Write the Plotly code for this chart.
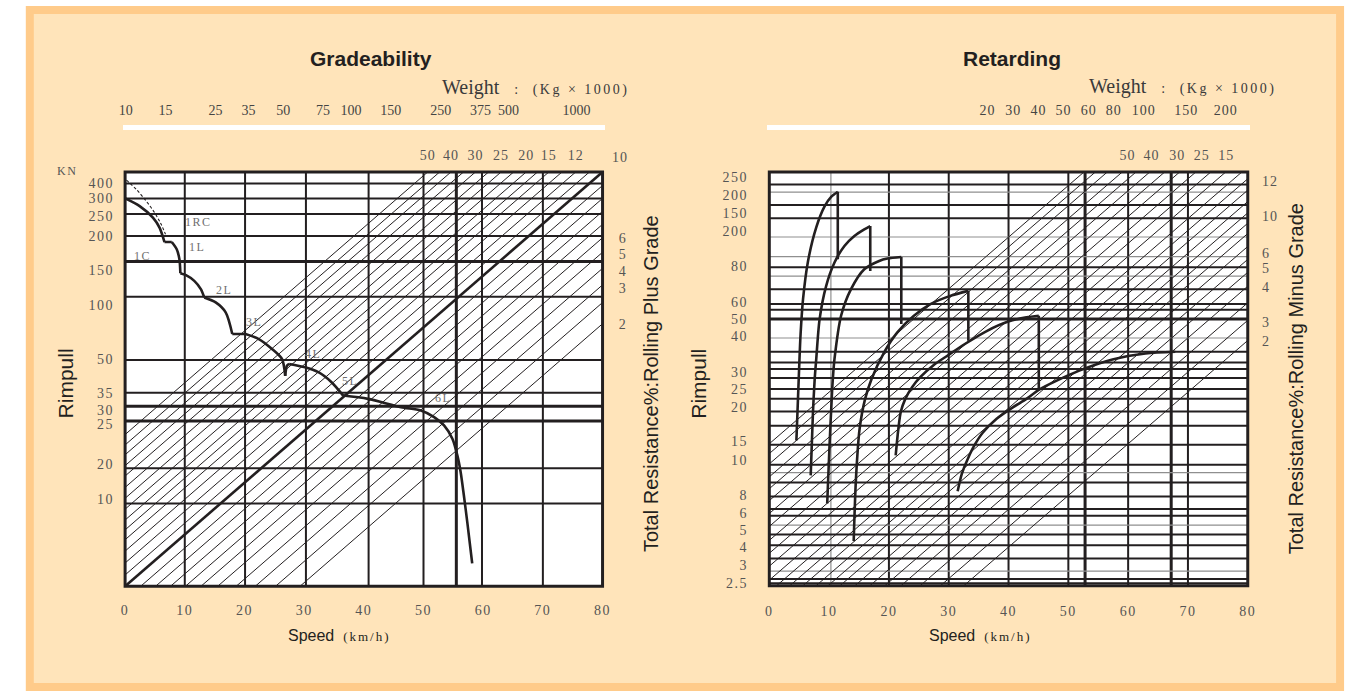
import plotly.graph_objects as go

FIG_W, FIG_H = 1355, 698
INK = "#231f20"
GRAY = "#8f8f8f"
TICK_COL = "#555555"
SERIF = "Liberation Serif, DejaVu Serif, serif"
SANS = "Liberation Sans, Arial, sans-serif"

# ======================= DATA =======================
speed_ticks = [0, 10, 20, 30, 40, 50, 60, 70, 80]

# ---- Gradeability (left) : vertical unit = position on the nonuniform rimpull scale
g_height = 415.5
g_rim_text = ["400", "300", "250", "200", "150", "100", "50", "35", "30", "25", "20", "10"]
g_rim_pos = [404, 389, 371, 351, 317, 282, 228, 194, 177, 163, 123, 87]
g_grade_right_text = ["6", "5", "4", "3", "2"]
g_grade_right_pos = [349, 333, 316, 299, 263]
g_grade_top_text = ["50", "40", "30", "25", "20", "15", "12"]
g_grade_top_speed = [50.7, 54.6, 58.7, 63.0, 67.2, 71.0, 75.5]
g_weight = [10, 15, 25, 35, 50, 75, 100, 150, 250, 375, 500, 1000]
g_vgrid_speed = [10, 20.1, 30.3, 40.8, 50, 55.5, 59.8, 70]
g_vgrid_width = [2, 2, 2, 2, 2, 3, 2, 2]
g_hgrid_pos = [404, 389, 373.5, 351.3, 325.7, 290.5, 227, 194, 180.7, 165.7, 118.5, 83]
g_hgrid_width = [2, 2, 2, 2, 3, 2, 2, 2, 3, 3, 2, 2]
# grade lines: speed where each line meets the bottom edge
g_hatch_offsets = [-29.3, -27.3, -25.4, -23.3, -21.3, -19.1, -17.0, -14.9, -12.8, -10.9,
                   -9.0, -6.8, -4.5, -2.2, 2.6, 5.1, 7.6, 10.1, 12.7, 15.5, 18.6, 21.8,
                   25.2, 29.3]
g_main_offset = 0.0
# rimpull curve, segments separated by None
g_curve_speed = [0, 2.44, 4.66, 5.77, 6.6, None,
                 6.6, 7.82, None,
                 7.82, 8.65, 9.1, 9.26, None,
                 9.26, 10.2, 11.59, 12.69, 13.26, None,
                 13.26, 15.18, 16.85, 17.96, None,
                 17.96, 20.17, None,
                 20.17, 22.4, 24.62, 26.28, 26.83, None,
                 26.83, 27.11, 27.49, None,
                 27.49, 30.15, 32.38, 34.59, 36.54, None,
                 36.54, 40.7, 46.24, 49.56, 51.78, 53.44, 54.84, 55.67, 56.22, 56.76, 57.33, 58.16]
g_curve_pos = [389, 381.3, 369.7, 359.7, 345.3, None,
               345.3, 345.3, None,
               345.3, 338, 328, 314, None,
               314, 312, 306.3, 298, 289.7, None,
               289.7, 284.7, 274.7, 253, None,
               253, 253, None,
               253, 248, 238, 228, 211, None,
               211, 221, 223, None,
               223, 219.7, 214.7, 204.7, 191.3, None,
               191.3, 188, 179.7, 176.3, 169.7, 161.3, 148, 131.3, 114.7, 91.3, 64.7, 23]
g_rc_speed = [0.22, 1.88, 3.54, 4.94, 6.04, 6.77]
g_rc_pos = [407.3, 398, 386.3, 374.7, 363, 353]
g_gear_text = ["1RC", "1L", "1C", "2L", "3L", "4L", "5L", "6L"]
g_gear_speed = [12.31, 12.02, 2.99, 16.58, 21.57, 31.55, 37.64, 53.34]
g_gear_pos = [365, 340.7, 331.3, 297.3, 264.7, 233, 206.3, 188.7]

# ---- Retarding (right)
r_height = 415.0
r_rim_text = ["250", "200", "150", "200", "80", "60", "50", "40", "30", "25", "20", "15",
              "10", "8", "6", "5", "4", "3", "2.5"]
r_rim_pos = [410.2, 391.5, 373.5, 355.8, 320.2, 284.8, 267.5, 250.8, 214.8, 197.5, 179.2,
             144.8, 126.5, 90.8, 72.5, 55.5, 38.5, 20.5, 2.5]
r_grade_right_text = ["12", "10", "6", "5", "4", "3", "2"]
r_grade_right_pos = [405.5, 370.5, 333.5, 318.5, 299.5, 264.5, 245.5]
r_grade_top_text = ["50", "40", "30", "25", "15"]
r_grade_top_speed = [59.9, 63.9, 68.2, 72.3, 76.4]
r_weight_text = ["20", "30", "40", "50", "60", "80", "100", "150", "200"]
r_weight_speed = [36.5, 40.8, 45.0, 49.2, 53.4, 57.6, 62.6, 69.7, 76.3]
r_vgrid_speed = [10.3, 20, 30, 40, 50, 52.8, 60, 67.2, 70]
r_vgrid_kind = ["g", "b", "b", "b", "b", "B", "b", "B", "b"]
r_hgrid_pos = [402.5, 394.8, 381.8, 368.5, 349.8, 330.2, 319.5, 310.5, 297.5, 282.5, 276.8,
               267.5, 248.5, 234.8, 224, 217.5, 208.5, 197.5, 187.5, 174.8, 160.5, 141.5,
               121.5, 113.5, 103.5, 89.5, 77, 70.2, 60.8, 51.5, 40.8, 27.5, 14.8, 6.8, 2.5]
r_hgrid_kind = ["b", "g", "b", "b", "g", "g", "b", "g", "b", "b", "b",
                "B", "g", "b", "b", "b", "b", "b", "b", "b", "b", "b",
                "b", "g", "b", "b", "b", "b", "g", "b", "b", "b", "g", "b", "b"]
r_hatch_offsets = [-27.5, -25.6, -23.6, -21.1, -18.8, -16.5, -14.0, -11.5, -8.8, -6.3, -3.8,
                   -1.1, 1.2, 3.4, 5.6, 7.8, 9.8, 11.8, 14.3, 16.8, 19.3, 22.0, 25.2, 28.6, 32.5]
r_hatch_slope = 5.18
# retarder curves per gear (curve, then drop at its right end)
r_curves = [
    ([4.53, 4.73, 4.98, 5.23, 5.64, 6.47, 7.85, 9.24, 10.34, 11.45],
     [145.8, 177.5, 217.5, 252.5, 287.5, 325.5, 359.5, 380.5, 390, 395.2], 327.5),
    ([6.92, 7.3, 7.59, 7.85, 8.41, 9.51, 10.9, 12.56, 14.22, 15.88, 16.88],
     [110.8, 174.2, 207.5, 227.5, 267.5, 300.8, 324.2, 340.8, 350.8, 357.5, 360.8], 315.8),
    ([9.68, 10.07, 10.46, 10.62, 10.9, 12.0, 13.66, 15.88, 18.37, 19.75, 22.07],
     [82.5, 140.8, 190.8, 207.5, 227.5, 270.8, 297.5, 317.5, 325.8, 328.2, 329.8], 262.5),
    ([14.11, 14.49, 15.1, 16.02, 17.1, 19.2, 21.41, 24.18, 26.94, 30.26, 33.28],
     [44.8, 107.5, 157.5, 187.5, 207.5, 234.2, 254.2, 270.8, 282.5, 290.8, 295.8], 245.8),
    ([21.13, 21.58, 21.99, 22.74, 23.9, 25.28, 27.5, 29.71, 32.7, 36.35, 39.95, 42.99, 45.06],
     [130.8, 157.5, 174.5, 187.5, 199.5, 209.5, 221.5, 230.5, 242.5, 255.5, 265, 269.2, 270.8], 197.5),
    ([31.49, 32.2, 33.2, 34.36, 35.68, 38.01, 40.78, 42.99, 45.2, 47.97, 51.83, 57.38, 62.9, 67.88],
     [94.8, 112.5, 127.5, 141.5, 153.5, 167.5, 179.2, 187.5, 197, 205.5, 215.8, 227, 233, 234.8], None),
]

# ======================= LAYOUT GEOMETRY =======================
L_BOX = dict(x0=122, x1=603, top=172.5, bot=588.0, h=g_height)
R_BOX = dict(x0=771, x1=1253, top=172.5, bot=587.5, h=r_height)
PADX, PADY = 0.4, 3.0


def fx(px):
    return px / FIG_W


def fy(py):
    return 1 - py / FIG_H


def domains(box):
    sx = (box["x1"] - box["x0"]) / 80.0
    sy = (box["bot"] - box["top"]) / box["h"]
    xd = [fx(box["x0"] - PADX * sx), fx(box["x1"] + PADX * sx)]
    yd = [fy(box["bot"] + PADY * sy), fy(box["top"] - PADY * sy)]
    return xd, yd, sx


def hatch_xy(offsets, k, height):
    xs, ys = [], []
    for d in offsets:
        s0 = max(0.0, d)
        s1 = min(80.0, d + height / k)
        if s1 > s0:
            xs += [s0, s1, None]
            ys += [k * (s0 - d), k * (s1 - d), None]
    return xs, ys


def spaced(t, ls=1.5):
    return "<span style='letter-spacing:%spx'>%s</span>" % (ls, t)


fig = go.Figure()

# ---------- hatch lines
gk = g_height / 80.0
hx, hy = hatch_xy(g_hatch_offsets, gk, g_height)
fig.add_trace(go.Scatter(x=hx, y=hy, mode="lines", line=dict(color=INK, width=1),
                         xaxis="x", yaxis="y", hoverinfo="skip", showlegend=False))
mx, my = hatch_xy([g_main_offset], gk, g_height)
fig.add_trace(go.Scatter(x=mx, y=my, mode="lines", line=dict(color=INK, width=2.6),
                         xaxis="x", yaxis="y", hoverinfo="skip", showlegend=False))
rx, ry = hatch_xy(r_hatch_offsets, r_hatch_slope, r_height)
fig.add_trace(go.Scatter(x=rx, y=ry, mode="lines", line=dict(color=INK, width=1),
                         xaxis="x2", yaxis="y2", hoverinfo="skip", showlegend=False))

# ---------- gradeability curves
fig.add_trace(go.Scatter(x=g_rc_speed, y=g_rc_pos, mode="lines",
                         line=dict(color=INK, width=1.1, dash="3px,2px", shape="spline"),
                         xaxis="x", yaxis="y", hoverinfo="skip", showlegend=False))
fig.add_trace(go.Scatter(x=g_curve_speed, y=g_curve_pos, mode="lines",
                         line=dict(color=INK, width=2.6, shape="spline", smoothing=0.8),
                         xaxis="x", yaxis="y", hoverinfo="skip", showlegend=False,
                         connectgaps=False))

# ---------- retarding curves
for cs, cp, drop in r_curves:
    fig.add_trace(go.Scatter(x=cs, y=cp, mode="lines",
                             line=dict(color=INK, width=2.6, shape="spline", smoothing=0.8),
                             xaxis="x2", yaxis="y2", hoverinfo="skip", showlegend=False))
    if drop is not None:
        fig.add_trace(go.Scatter(x=[cs[-1], cs[-1]], y=[cp[-1], drop], mode="lines",
                                 line=dict(color=INK, width=2.6),
                                 xaxis="x2", yaxis="y2", hoverinfo="skip", showlegend=False))

# ---------- dummy traces so the overlay axes are drawn
for xa, ya in [("x3", "y"), ("x5", "y"), ("x", "y3"), ("x4", "y2"), ("x6", "y2"), ("x2", "y4")]:
    fig.add_trace(go.Scatter(x=[None], y=[None], xaxis=xa, yaxis=ya, mode="lines",
                             hoverinfo="skip", showlegend=False))

# ---------- shapes
shapes = []
shapes.append(dict(type="rect", xref="paper", yref="paper", x0=fx(26), x1=fx(1346),
                   y0=fy(689), y1=fy(10), line=dict(color="#ffcb8a", width=8),
                   fillcolor="#ffe4ba", layer="below"))
for xr, yr, h in [("x", "y", g_height), ("x2", "y2", r_height)]:
    shapes.append(dict(type="rect", xref=xr, yref=yr, x0=0, x1=80, y0=0, y1=h,
                       line=dict(width=0), fillcolor="white", layer="below"))

for s, w in zip(g_vgrid_speed, g_vgrid_width):
    shapes.append(dict(type="line", xref="x", yref="y", x0=s, x1=s, y0=0, y1=g_height,
                       line=dict(color=INK, width=w), layer="below"))
for p, w in zip(g_hgrid_pos, g_hgrid_width):
    shapes.append(dict(type="line", xref="x", yref="y", x0=0, x1=80, y0=p, y1=p,
                       line=dict(color=INK, width=w), layer="below"))
kind_style = {"g": (GRAY, 1.2), "b": (INK, 2), "B": (INK, 3)}
for s, k in zip(r_vgrid_speed, r_vgrid_kind):
    c, w = kind_style[k]
    shapes.append(dict(type="line", xref="x2", yref="y2", x0=s, x1=s, y0=0, y1=r_height,
                       line=dict(color=c, width=w), layer="below"))
for p, k in zip(r_hgrid_pos, r_hgrid_kind):
    c, w = kind_style[k]
    shapes.append(dict(type="line", xref="x2", yref="y2", x0=0, x1=80, y0=p, y1=p,
                       line=dict(color=c, width=w), layer="below"))
for xr, yr, h in [("x", "y", g_height), ("x2", "y2", r_height)]:
    shapes.append(dict(type="rect", xref=xr, yref=yr, x0=0, x1=80, y0=0, y1=h,
                       line=dict(color=INK, width=3), layer="above"))

# ---------- axes
gxd, gyd, gsx = domains(L_BOX)
rxd, ryd, rsx = domains(R_BOX)
tickfont = dict(family=SERIF, size=14, color=TICK_COL)
clear = "rgba(0,0,0,0)"
base = dict(showgrid=False, zeroline=False, showline=False, ticks="outside",
            tickcolor=clear, tickfont=tickfont, fixedrange=True)

g_yr = [-PADY, g_height + PADY]
r_yr = [-PADY, r_height + PADY]
xr_ = [-PADX, 80 + PADX]
speed_text = [spaced(v) for v in speed_ticks]

# log weight axis aligned so that 10 sits at x=122.7px, 227px per decade
w_px0, w_dec = 122.7, 227.0
w_range = [1 + (gxd[0] * FIG_W - w_px0) / w_dec, 1 + (gxd[1] * FIG_W - w_px0) / w_dec]
wfont = dict(family=SERIF, size=14, color="#444444")

layout_axes = dict(
    xaxis=dict(base, domain=gxd, range=xr_, anchor="y", tickvals=speed_ticks,
               ticktext=speed_text, ticklen=8),
    yaxis=dict(base, domain=gyd, range=g_yr, anchor="x", tickvals=g_rim_pos,
               ticktext=[spaced(t) for t in g_rim_text], ticklen=5),
    yaxis3=dict(base, overlaying="y", side="right", anchor="x", range=g_yr,
                tickvals=g_grade_right_pos, ticktext=g_grade_right_text, ticklen=10),
    xaxis3=dict(base, overlaying="x", side="top", anchor="y", range=xr_,
                tickvals=g_grade_top_speed, ticktext=[spaced(t, 1) for t in g_grade_top_text],
                ticklen=2),
    xaxis5=dict(base, overlaying="x", side="top", anchor="free", position=fy(127),
                type="log", range=w_range, tickvals=g_weight,
                ticktext=[str(v) for v in g_weight], showline=True, linecolor="white",
                linewidth=5, ticklen=4, tickfont=wfont),
    xaxis2=dict(base, domain=rxd, range=xr_, anchor="y2", tickvals=speed_ticks,
                ticktext=speed_text, ticklen=9),
    yaxis2=dict(base, domain=ryd, range=r_yr, anchor="x2", tickvals=r_rim_pos,
                ticktext=[spaced(t) for t in r_rim_text], ticklen=15),
    yaxis4=dict(base, overlaying="y2", side="right", anchor="x2", range=r_yr,
                tickvals=r_grade_right_pos, ticktext=[spaced(t, 1) for t in r_grade_right_text],
                ticklen=8),
    xaxis4=dict(base, overlaying="x2", side="top", anchor="y2", range=xr_,
                tickvals=r_grade_top_speed, ticktext=[spaced(t, 1) for t in r_grade_top_text],
                ticklen=2),
    xaxis6=dict(base, overlaying="x2", side="top", anchor="free", position=fy(127),
                range=xr_, tickvals=r_weight_speed,
                ticktext=[spaced(t, 1) for t in r_weight_text],
                showline=True, linecolor="white", linewidth=5, ticklen=4, tickfont=wfont),
)

# ---------- annotations
ann = []


def txt(x, y, text, size, family=SANS, color=INK, xanchor="center", angle=0, bold=False,
        xref="paper", yref="paper"):
    ann.append(dict(x=x, y=y, xref=xref, yref=yref, text=("<b>%s</b>" % text) if bold else text,
                    showarrow=False, xanchor=xanchor, yanchor="middle", textangle=angle,
                    font=dict(family=family, size=size, color=color)))


txt(fx(369.6), fy(59), "Gradeability", 21, bold=True)
txt(fx(1015), fy(59), "Retarding", 21, bold=True)
wtxt = ("Weight\u00a0\u00a0\u00a0<span style='font-size:14px;letter-spacing:2.5px'>:\u00a0\u00a0"
        "(Kg\u00a0×\u00a01000)</span>")
txt(fx(633), fy(88), wtxt, 20, family=SERIF, color="#3a3a3a", xanchor="right")
txt(fx(1284), fy(87), wtxt, 20, family=SERIF, color="#3a3a3a", xanchor="right")
txt(fx(62), fy(385), "Rimpull", 21, angle=-90)
txt(fx(700), fy(385), "Rimpull", 21, angle=-90)
txt(fx(652), fy(385), "Total Resistance%:Rolling Plus Grade", 20, angle=-90)
txt(fx(1302), fy(380), "Total Resistance%:Rolling Minus Grade", 20, angle=-90)
spd = ("Speed\u00a0\u00a0<span style='font-family:Liberation Serif;font-size:13px;"
       "letter-spacing:2px'>(km/h)</span>")
txt(fx(338), fy(637), spd, 16)
txt(fx(984), fy(637), spd, 16)
txt(fx(63), fy(171), spaced("KN", 1.5), 12, family=SERIF, color=TICK_COL)
txt(fx(621), fy(158), spaced("10", 1), 14, family=SERIF, color=TICK_COL)
for t, s, p in zip(g_gear_text, g_gear_speed, g_gear_pos):
    txt(s, p, spaced(t, 1.5), 12, family=SERIF, color="#707070", xref="x", yref="y")

fig.update_layout(
    width=FIG_W, height=FIG_H, autosize=False,
    margin=dict(l=0, r=0, t=0, b=0),
    paper_bgcolor="white", plot_bgcolor="white",
    showlegend=False, shapes=shapes, annotations=ann,
    **layout_axes,
)

fig.write_html("out.html", config={"displayModeBar": False},
               post_script="document.body.style.margin='0px';")
